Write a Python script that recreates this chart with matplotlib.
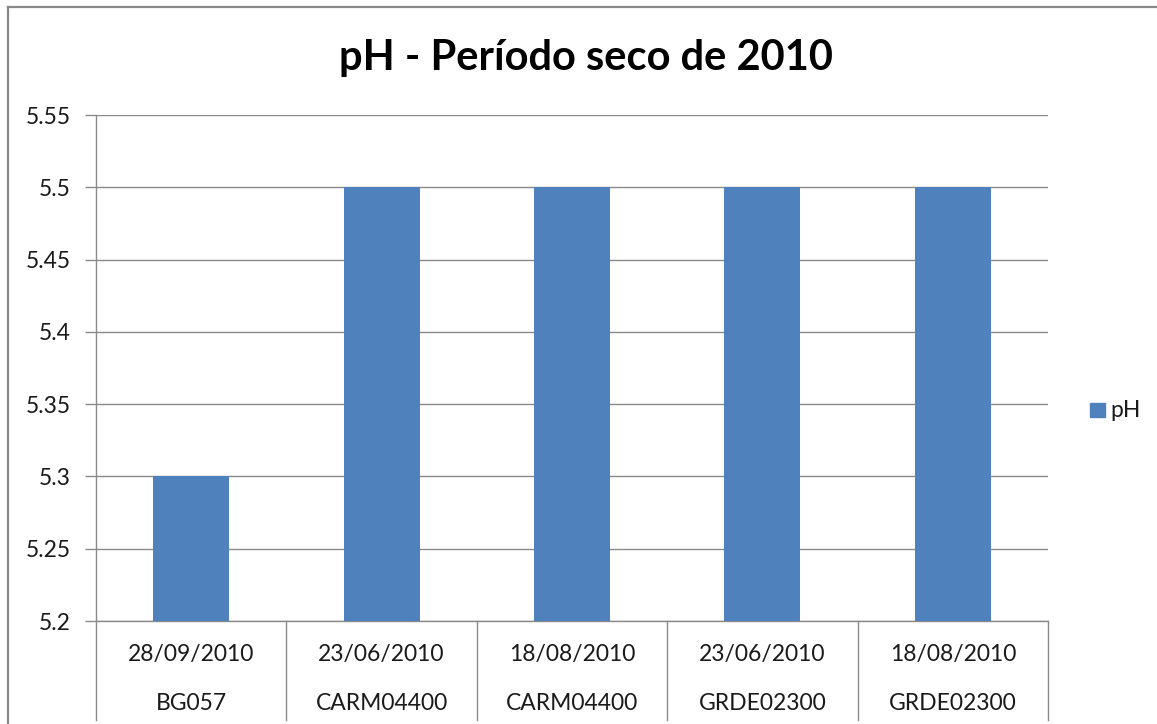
import matplotlib
matplotlib.use("Agg")
import matplotlib.pyplot as plt
from matplotlib.lines import Line2D
from matplotlib.patches import Rectangle
import matplotlib.transforms as mtransforms

dates = ["28/09/2010", "23/06/2010", "18/08/2010", "23/06/2010", "18/08/2010"]
stations = ["BG057", "CARM04400", "CARM04400", "GRDE02300", "GRDE02300"]
ph_values = [5.3, 5.5, 5.5, 5.5, 5.5]
yticks = [5.2, 5.25, 5.3, 5.35, 5.4, 5.45, 5.5, 5.55]
ytick_labels = ["5.2", "5.25", "5.3", "5.35", "5.4", "5.45", "5.5", "5.55"]

W, H = 1157, 724
fig = plt.figure(figsize=(W / 100, H / 100), dpi=100)
plt.rcParams['font.family'] = ['Lato', 'DejaVu Sans']

gray = "#8a8a8a"
bar_color = "#4f81bd"
text_color = "#1a1a1a"
fs = 16.5

ax = fig.add_axes([96 / W, 1 - 621 / H, (1048 - 96) / W, (621 - 115) / H])
x = list(range(len(ph_values)))
ax.bar(x, [v - 5.2 for v in ph_values], bottom=5.2, width=0.4, color=bar_color, zorder=3)
ax.set_xlim(-0.5, len(ph_values) - 0.5)
ax.set_ylim(5.2, 5.55)
ax.set_yticks(yticks)
ax.set_yticklabels(ytick_labels, fontsize=fs, color=text_color)
ax.tick_params(axis='y', length=8, color=gray, width=1, pad=10)
ax.tick_params(axis='x', length=0, labelbottom=False)
ax.grid(axis='y', color=gray, linewidth=1, zorder=0)
for s in ['top', 'right']:
    ax.spines[s].set_visible(False)
ax.spines['left'].set_color(gray)
ax.spines['bottom'].set_color(gray)
ax.spines['left'].set_linewidth(1)
ax.spines['bottom'].set_linewidth(1)

trans = mtransforms.blended_transform_factory(ax.transData, ax.transAxes)
ph = 621 - 115
sep_bottom = -(720 - 621) / ph
for i in range(len(ph_values) + 1):
    ax.add_line(Line2D([i - 0.5, i - 0.5], [0, sep_bottom], transform=trans,
                       color=gray, linewidth=1, clip_on=False))
for i, (d, s) in enumerate(zip(dates, stations)):
    ax.text(i, -(655 - 621) / ph, d, transform=trans, ha='center', va='center',
            fontsize=fs, color=text_color)
    ax.text(i, -(703 - 621) / ph, s, transform=trans, ha='center', va='center',
            fontsize=fs, color=text_color)

fig.text(586 / W, 1 - 58 / H, "pH - Período seco de 2010", ha='center', va='center',
         fontsize=30, fontweight='bold', color='black')

# legend
fig.patches.append(Rectangle((1090 / W, 1 - 417 / H), 15 / W, 14 / H,
                             transform=fig.transFigure, color=bar_color))
fig.text(1110 / W, 1 - 410 / H, "pH", ha='left', va='center', fontsize=fs, color=text_color)

# outer border
fig.lines.append(Line2D([8 / W, 1], [1 - 7 / H, 1 - 7 / H], transform=fig.transFigure,
                        color="#888888", linewidth=1.6))
fig.lines.append(Line2D([8 / W, 8 / W], [0, 1 - 7 / H], transform=fig.transFigure,
                        color="#888888", linewidth=1.6))

fig.savefig("out.png", dpi=100)
